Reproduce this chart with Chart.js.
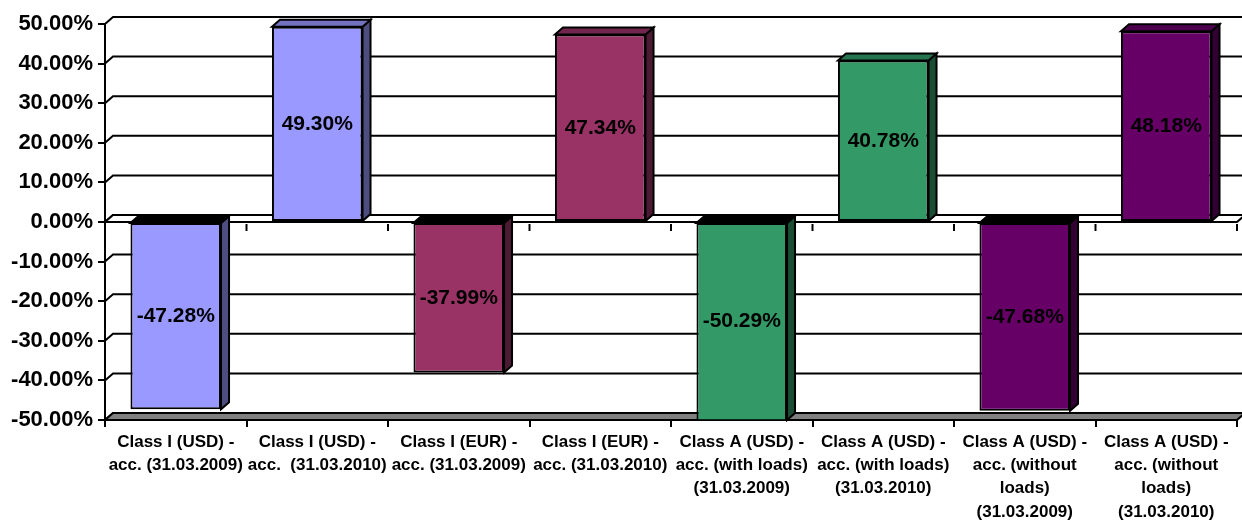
<!DOCTYPE html>
<html>
<head>
<meta charset="utf-8">
<script src="https://cdn.jsdelivr.net/npm/chart.js@4/dist/chart.umd.min.js"></script>
<style>
  html, body { margin: 0; padding: 0; background: #fff; }
  #wrap { width: 1242px; height: 520px; }
</style>
</head>
<body>
<div id="wrap"><canvas id="perfChart" width="1242" height="520"></canvas></div>
<script>
// categorias (rótulos em várias linhas)
const categorias = [
  ['Class I (USD) -', 'acc. (31.03.2009)'],
  ['Class I (USD) -', 'acc.  (31.03.2010)'],
  ['Class I (EUR) -', 'acc. (31.03.2009)'],
  ['Class I (EUR) -', 'acc. (31.03.2010)'],
  ['Class A (USD) -', 'acc. (with loads)', '(31.03.2009)'],
  ['Class A (USD) -', 'acc. (with loads)', '(31.03.2010)'],
  ['Class A (USD) -', 'acc. (without', 'loads)', '(31.03.2009)'],
  ['Class A (USD) -', 'acc. (without', 'loads)', '(31.03.2010)']
];
const retornos = [-47.28, 49.30, -37.99, 47.34, -50.29, 40.78, -47.68, 48.18];
const eixoMin = -50, eixoMax = 50, passo = 10;

// cores: frente, lateral, topo
const corFrente = ['#9999FF', '#9999FF', '#993366', '#993366', '#339966', '#339966', '#660066', '#660066'];
const corLado   = ['#4D4D80', '#4D4D80', '#4D1A33', '#4D1A33', '#1A4D33', '#1A4D33', '#330033', '#330033'];
const corTopo   = ['#7373BF', '#7373BF', '#73264D', '#73264D', '#267350', '#267350', '#4D004D', '#4D004D'];

const FONTE = "'Liberation Sans', Arial, sans-serif";
const DX = 8, DY = -7;

function poligono(ctx, pts, fill) {
  ctx.beginPath();
  ctx.moveTo(pts[0][0], pts[0][1]);
  pts.slice(1).forEach(p => ctx.lineTo(p[0], p[1]));
  ctx.closePath();
  if (fill) { ctx.fillStyle = fill; ctx.fill(); }
  ctx.stroke();
}

// efeito 3D estilo Excel: parede do fundo, piso e faces das barras
const efeito3D = {
  id: 'efeito3D',
  beforeDatasetsDraw(chart) {
    const { ctx, chartArea: a, scales: { x, y } } = chart;
    ctx.save();
    ctx.lineWidth = 2;
    ctx.strokeStyle = '#000';
    // linhas de grade na parede do fundo
    y.ticks.forEach(t => {
      const py = y.getPixelForValue(t.value);
      ctx.beginPath();
      ctx.moveTo(a.left, py);
      ctx.lineTo(a.left + DX, py + DY);
      ctx.lineTo(a.right + DX, py + DY);
      ctx.stroke();
    });
    // piso
    const pf = y.getPixelForValue(eixoMin);
    poligono(ctx, [[a.left, pf], [a.left + DX, pf + DY], [a.right + DX, pf + DY], [a.right, pf]], '#808080');
    // plano do zero
    const p0 = y.getPixelForValue(0);
    poligono(ctx, [[a.left, p0], [a.left + DX, p0 + DY], [a.right + DX, p0 + DY], [a.right, p0]], '#FFFFFF');
    // marcas pequenas no zero
    for (let i = 1; i <= categorias.length; i++) {
      const px = x.getPixelForValue(i - 0.5);
      ctx.beginPath();
      ctx.moveTo(px, p0 + 2);
      ctx.lineTo(px, p0 + 9);
      ctx.stroke();
    }
    ctx.restore();
  },
  afterDatasetsDraw(chart) {
    const { ctx, chartArea: a } = chart;
    const meta = chart.getDatasetMeta(0);
    ctx.save();
    ctx.lineWidth = 2;
    ctx.strokeStyle = '#000';
    meta.data.forEach((el, i) => {
      const p = el.getProps(['x', 'y', 'base', 'width'], true);
      const esq = p.x - p.width / 2, dir = p.x + p.width / 2;
      const topo = Math.max(Math.min(p.y, p.base), a.top);
      const fundo = Math.min(Math.max(p.y, p.base), a.bottom);
      // lateral
      poligono(ctx, [[dir, topo], [dir + DX, topo + DY], [dir + DX, fundo + DY], [dir, fundo]], corLado[i]);
      // topo
      const ct = retornos[i] < 0 ? '#000000' : corTopo[i];
      poligono(ctx, [[esq, topo], [esq + DX, topo + DY], [dir + DX, topo + DY], [dir, topo]], ct);
      // rótulo do valor
      ctx.fillStyle = '#000';
      ctx.font = 'bold 21px ' + FONTE;
      ctx.textAlign = 'center';
      ctx.textBaseline = 'middle';
      ctx.fillText(retornos[i].toFixed(2) + '%', p.x, (topo + fundo) / 2);
    });
    ctx.restore();
  }
};

new Chart(document.getElementById('perfChart').getContext('2d'), {
  type: 'bar',
  data: {
    labels: categorias,
    datasets: [{
      data: retornos,
      backgroundColor: corFrente,
      borderColor: '#000',
      borderWidth: 2,
      borderSkipped: false,
      categoryPercentage: 1,
      barPercentage: 0.64
    }]
  },
  options: {
    responsive: false,
    animation: false,
    devicePixelRatio: 1,
    layout: { padding: { top: 24, right: 5, left: 0, bottom: 0 } },
    plugins: { legend: { display: false }, tooltip: { enabled: false } },
    scales: {
      x: {
        afterFit: s => { s.height = 100; },
        grid: { drawOnChartArea: false, tickLength: 7, color: '#000', lineWidth: 2 },
        border: { display: true, color: '#000', width: 2 },
        ticks: {
          maxRotation: 0, autoSkip: false, padding: 4, color: '#000',
          font: { family: FONTE, size: 17, weight: 'bold', lineHeight: 1.36 }
        }
      },
      y: {
        min: eixoMin, max: eixoMax,
        afterFit: s => { s.width = 105; },
        grid: { drawOnChartArea: false, tickLength: 7, color: '#000', lineWidth: 2 },
        border: { display: true, color: '#000', width: 2 },
        ticks: {
          stepSize: passo, padding: 5, color: '#000',
          font: { family: FONTE, size: 22, weight: 'bold' },
          callback: v => v.toFixed(2) + '%'
        }
      }
    }
  },
  plugins: [efeito3D]
});
</script>
</body>
</html>
